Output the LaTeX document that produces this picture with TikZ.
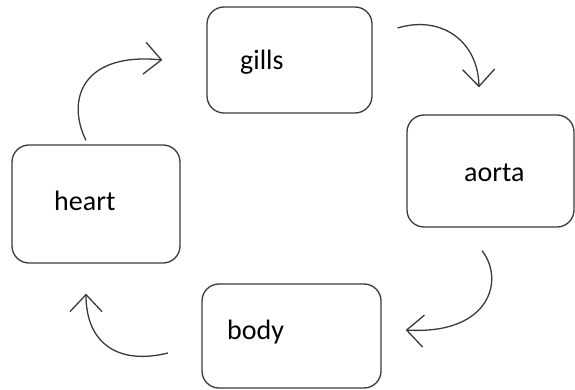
\documentclass[tikz,border=0pt]{standalone}
\usepackage{fontspec}
\setmainfont{Carlito}
\usetikzlibrary{arrows.meta,calc}
\definecolor{edge}{HTML}{3A3A3A}
\tikzset{
  organ/.style={draw=edge, line width=1.3pt, rounded corners=17pt, inner sep=0pt},
  organtext/.style={anchor=base west, inner sep=0pt, font=\fontsize{28}{30}\selectfont, text=black},
  flow/.style={draw=edge, line width=1.3pt, -{Straight Barb[length=17pt,width=32pt,line width=1.3pt]}}
}
\begin{document}
\begin{tikzpicture}[x=1pt,y=-1pt]
\useasboundingbox (0,0) rectangle (575,390);
% boxes
\node[organ, minimum width=165pt, minimum height=106pt] (gills) at (289.5,60) {};
\node[organ, minimum width=167pt, minimum height=112pt] (aorta) at (490.5,171) {};
\node[organ, minimum width=168pt, minimum height=118pt] (heart) at (96,204) {};
\node[organ, minimum width=179pt, minimum height=104pt] (body) at (291.5,336) {};
% labels
\node[organtext] (gillsT) at (240,70) {gills};
\node[organtext] (aortaT) at (464,182) {aorta};
\node[organtext] (heartT) at (54,210) {heart};
\node[organtext] (bodyT) at (227,339) {body};
% connectors
\coordinate (h1) at ($(heart.north)+(-10,-4)$);
\coordinate (g1) at ($(gills.west)+(-44,0)$);
\coordinate (g2) at ($(gills.east)+(25,-32)$);
\coordinate (a1) at ($(aorta.north)+(-11.5,-27)$);
\coordinate (a2) at ($(aorta.south)+(-8.5,23)$);
\coordinate (b1) at ($(body.east)+(24,-6)$);
\coordinate (b2) at ($(body.west)+(-33.5,17)$);
\coordinate (h2) at ($(heart.south)+(-10,30)$);
\draw[flow] (h1) .. controls (66,100) and (82,52) .. (g1);
\draw[flow] (g2) .. controls (440,15) and (478,40) .. (a1);
\draw[flow] (a2) .. controls (505,280) and (490,335) .. (b1);
\draw[flow] (b2) .. controls (120,365) and (86,345) .. (h2);
\end{tikzpicture}
\end{document}
